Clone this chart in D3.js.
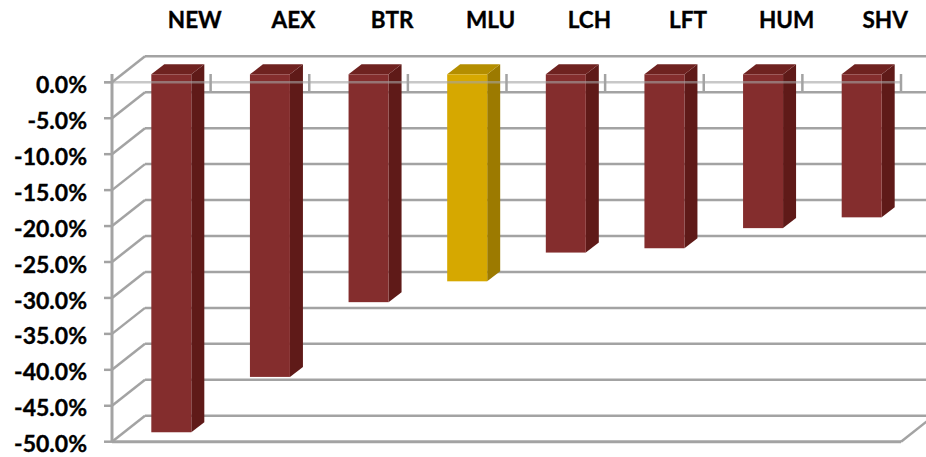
<!DOCTYPE html>
<html><head><meta charset="utf-8">
<script src="https://cdn.jsdelivr.net/npm/d3@7"></script>
<style>html,body{margin:0;padding:0;background:#fff}svg{display:block}text{font-family:Lato,"Open Sans",sans-serif;font-weight:700;fill:#000;stroke:#000;stroke-width:.35px}</style>
</head><body><div id="c"></div>
<script>
const categories=["NEW","AEX","BTR","MLU","LCH","LFT","HUM","SHV"];
const values=[-49.8,-42.1,-31.7,-28.8,-24.8,-24.2,-21.4,-19.9];
const highlight=["MLU"];
const yTicks=[0,-5,-10,-15,-20,-25,-30,-35,-40,-45,-50];
const W=926,H=457;
const svg=d3.select("#c").append("svg").attr("width",W).attr("height",H);
const x=d3.scaleBand().domain(categories).range([112,901]);
const y=d3.scaleLinear().domain([0,-50]).range([82.3,441.7]);
const grid="#a3a3a3";
const wallDx=33,wallDy=-26,barDx=10,barDy=-8,depDx=13,depDy=-10,barW=40;
const fmt=v=>v.toFixed(1)+"%";
yTicks.forEach(t=>{
  svg.append("line").attr("x1",112+wallDx).attr("x2",W).attr("y1",y(t)+wallDy).attr("y2",y(t)+wallDy).attr("stroke",grid).attr("stroke-width",2.5);
  svg.append("line").attr("x1",112).attr("x2",112+wallDx).attr("y1",y(t)).attr("y2",y(t)+wallDy).attr("stroke",grid).attr("stroke-width",2.5);
  svg.append("line").attr("x1",104).attr("x2",112).attr("y1",y(t)).attr("y2",y(t)).attr("stroke",grid).attr("stroke-width",2.5);
});
svg.append("line").attr("x1",901).attr("x2",901+wallDx).attr("y1",y(-50)).attr("y2",y(-50)+wallDy).attr("stroke",grid).attr("stroke-width",2.5);
svg.append("line").attr("x1",112).attr("x2",901).attr("y1",y(-50)).attr("y2",y(-50)).attr("stroke",grid).attr("stroke-width",3);
svg.append("line").attr("x1",112).attr("x2",112).attr("y1",74).attr("y2",y(-50)).attr("stroke",grid).attr("stroke-width",3);
categories.forEach(c=>{
  const tx=x(c)+x.bandwidth();
  svg.append("line").attr("x1",tx).attr("x2",tx).attr("y1",74).attr("y2",91).attr("stroke",grid).attr("stroke-width",2.5);
});
const bars=svg.append("g").selectAll("g").data(categories).join("g");
const pts=a=>a.map(p=>p.join(",")).join(" ");
bars.each(function(c,i){
  const g=d3.select(this),hi=highlight.includes(c);
  const l=x(c)+x.bandwidth()/2-barW/2+barDx,r=l+barW,t=y(0)+barDy,b=y(values[i])+barDy;
  g.append("polygon").attr("points",pts([[r,t],[r+depDx,t+depDy],[r+depDx,b+depDy],[r,b]])).attr("fill",hi?"#9c7a00":"#5f1a18");
  g.append("polygon").attr("points",pts([[l,t],[l+depDx,t+depDy],[r+depDx,t+depDy],[r,t]])).attr("fill",hi?"#b48e00":"#6f2220");
  g.append("rect").attr("x",l).attr("y",t).attr("width",barW).attr("height",b-t).attr("fill",hi?"#d6a800":"#842d2d");
});
svg.append("line").attr("x1",104).attr("x2",901).attr("y1",y(0)).attr("y2",y(0)).attr("stroke",grid).attr("stroke-width",2.5).attr("stroke-opacity",.6);
svg.append("g").selectAll("text").data(yTicks).join("text").attr("x",87).attr("y",d=>y(d)+10.6).attr("text-anchor","end").attr("font-size",23).text(fmt);
svg.append("g").selectAll("text").data(categories).join("text").attr("x",c=>x(c)+x.bandwidth()/2+33.5).attr("y",28).attr("text-anchor","middle").attr("font-size",22.5).text(c=>c);
</script></body></html>
